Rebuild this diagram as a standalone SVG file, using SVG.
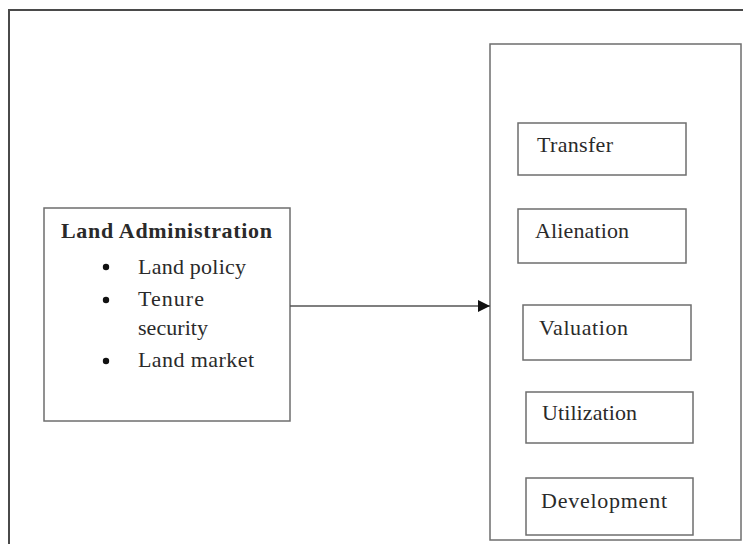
<svg xmlns="http://www.w3.org/2000/svg" width="743" height="544" viewBox="0 0 743 544">
  <style>
    .frame { fill: none; stroke: #4a4a4a; stroke-width: 2; }
    .box { fill: #ffffff; stroke: #6e6e6e; stroke-width: 1.5; }
    .lbl { font-family: "Liberation Serif", "Times New Roman", serif; font-size: 22px; fill: #2a2a2a; }
    .title { font-weight: bold; }
    .conn { stroke: #555555; stroke-width: 1.5; fill: none; }
  </style>
  <defs>
    <marker id="arrowhead" viewBox="0 0 12 12" refX="12" refY="6" markerWidth="12" markerHeight="12" markerUnits="userSpaceOnUse" orient="auto">
      <path d="M0,0 L12,6 L0,12 z" fill="#111111"/>
    </marker>
  </defs>
  <rect width="743" height="544" fill="#ffffff"/>

  <!-- outer frame, open at the right and bottom edges -->
  <path class="frame" d="M9,544 L9,10 L743,10"/>

  <!-- left node -->
  <g id="land-administration">
    <rect class="box" x="44" y="208" width="246" height="213"/>
    <text class="lbl title" x="61" y="238" textLength="211">Land Administration</text>
    <circle cx="106" cy="267" r="3.2" fill="#111"/>
    <circle cx="106" cy="300" r="3.2" fill="#111"/>
    <circle cx="106" cy="361" r="3.2" fill="#111"/>
    <text class="lbl" x="138" y="274" textLength="108">Land policy</text>
    <text class="lbl" x="138" y="306" textLength="66">Tenure</text>
    <text class="lbl" x="138" y="335" textLength="70">security</text>
    <text class="lbl" x="138" y="367" textLength="116">Land market</text>
  </g>

  <!-- right container -->
  <g id="land-functions">
    <rect class="box" x="490" y="44" width="251" height="496"/>
  </g>
  <g id="transfer">
    <rect class="box" x="518" y="123" width="168" height="52"/>
    <text class="lbl" x="537" y="152" textLength="76">Transfer</text>
  </g>
  <g id="alienation">
    <rect class="box" x="518" y="209" width="168" height="54"/>
    <text class="lbl" x="535" y="238" textLength="94">Alienation</text>
  </g>
  <g id="valuation">
    <rect class="box" x="523" y="305" width="168" height="55"/>
    <text class="lbl" x="539" y="335" textLength="89">Valuation</text>
  </g>
  <g id="utilization">
    <rect class="box" x="526" y="392" width="167" height="51"/>
    <text class="lbl" x="542" y="420" textLength="95">Utilization</text>
  </g>
  <g id="development">
    <rect class="box" x="526" y="478" width="167" height="57"/>
    <text class="lbl" x="541" y="508" textLength="126">Development</text>
  </g>

  <g id="connectors">
    <line class="conn" x1="290" y1="306" x2="490" y2="306" marker-end="url(#arrowhead)"/>
  </g>
</svg>
